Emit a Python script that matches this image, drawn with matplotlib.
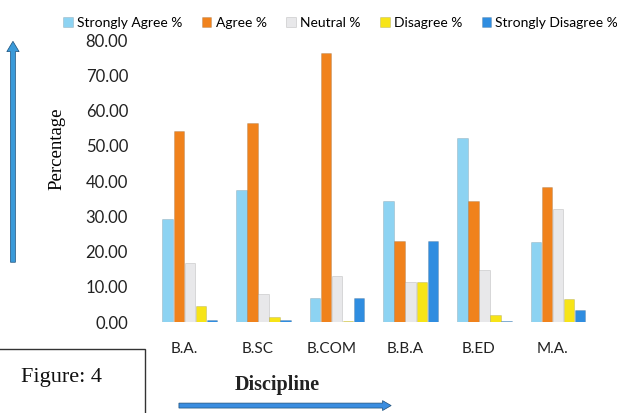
import matplotlib.pyplot as plt
import numpy as np
from matplotlib.patches import FancyArrow, Rectangle

disciplines = ["B.A.", "B.SC", "B.COM", "B.B.A", "B.ED", "M.A."]
series = ["Strongly Agree %", "Agree %", "Neutral %", "Disagree %", "Strongly Disagree %"]
strongly_agree = [29.3, 37.5, 6.8, 34.4, 52.3, 22.8]
agree = [54.3, 56.5, 76.4, 23.0, 34.4, 38.4]
neutral = [16.8, 8.0, 13.0, 11.5, 14.8, 32.1]
disagree = [4.5, 1.5, 0.3, 11.5, 2.0, 6.5]
strongly_disagree = [0.5, 0.5, 6.8, 23.0, 0.3, 3.5]
colors = ["#8dd3f2", "#f0821c", "#e8e8ea", "#f7e417", "#2f8de0"]

values = [strongly_agree, agree, neutral, disagree, strongly_disagree]

fig = plt.figure(figsize=(6.17, 4.13), dpi=100)
ax = fig.add_axes([0.248, 0.22, 0.716, 0.683])

x = np.arange(len(disciplines))
w = 0.15
for i, (name, vals, c) in enumerate(zip(series, values, colors)):
    ax.bar(x + (i - 2) * w, vals, w * 0.95, color=c, label=name,
           edgecolor="#00000022", linewidth=0.6)

ax.set_xlim(-0.5, len(disciplines) - 0.5)
ax.set_ylim(0, 80)
ax.set_yticks(np.arange(0, 81, 10))
ax.set_yticklabels([f"{v:.2f}" for v in np.arange(0, 81, 10)],
                   family="Lato", fontsize=12, color="#222222")
ax.set_xticks(x - 0.08)
ax.set_xticklabels(disciplines, family="Lato", fontsize=11, color="#222222")
ax.tick_params(length=0, axis="y", pad=18)
ax.tick_params(length=0, axis="x", pad=14)
for s in ax.spines.values():
    s.set_visible(False)

ax.legend(loc="center", bbox_to_anchor=(0.552, 0.945), bbox_transform=fig.transFigure,
          ncol=5, frameon=False, prop={"family": "Lato", "size": 10},
          handlelength=0.7, handleheight=0.7, handletextpad=0.3, columnspacing=1.4)

fig.text(0.092, 0.64, "Percentage", rotation=90, family="Liberation Serif",
         fontsize=13.5, ha="center", va="center")
fig.text(0.45, 0.068, "Discipline", family="Liberation Serif", fontsize=14.5,
         fontweight="bold", ha="center", va="center", color="#222222")

# arrows along the axes
fig.patches.append(FancyArrow(0.021, 0.365, 0, 0.51, width=0.008, head_width=0.02,
                              head_length=0.025, color="#3a9ad9", ec="#1c4f7a", lw=0.5,
                              transform=fig.transFigure))
fig.patches.append(FancyArrow(0.29, 0.018, 0.33, 0, width=0.012, head_width=0.024,
                              head_length=0.014, color="#3a8de0", ec="#1c4f7a", lw=0.5,
                              transform=fig.transFigure))

# figure caption box
fig.patches.append(Rectangle((-0.01, -0.01), 0.245, 0.165, fill=False, ec="#333333",
                             lw=1.0, transform=fig.transFigure))
fig.text(0.1, 0.085, "Figure: 4", family="Liberation Serif", fontsize=16,
         ha="center", va="center", color="#111111")

fig.savefig("out.png", dpi=100)
